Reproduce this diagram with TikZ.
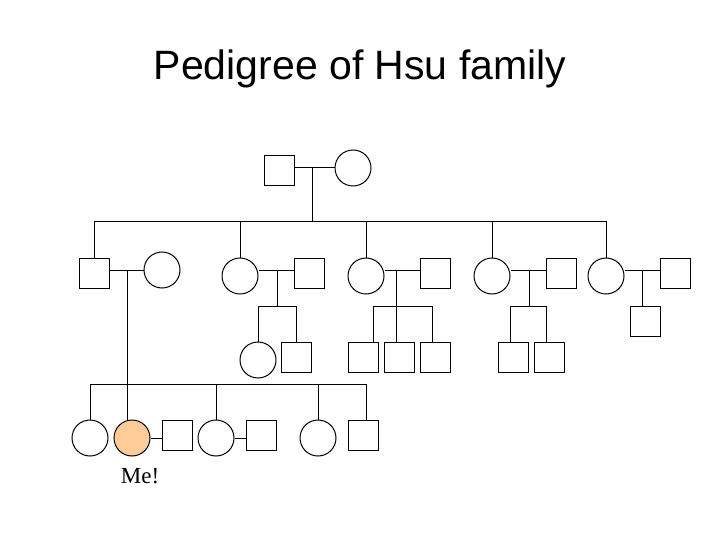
\documentclass[tikz,border=0pt]{standalone}
\usepackage{fontspec}
\setmainfont{Liberation Serif}
\newfontfamily\titlefont{Liberation Sans}
\usetikzlibrary{calc}
\definecolor{mepeach}{RGB}{255,204,153}

\begin{document}
\begin{tikzpicture}[x=1pt, y=-1pt,
  male/.style={rectangle, draw, line width=1pt, minimum size=30pt, inner sep=0pt},
  female/.style={circle, draw, line width=1pt, minimum size=36pt, inner sep=0pt},
  every path/.style={line width=1pt},
]
  \useasboundingbox (0,0) rectangle (720,540);
  \node[font=\titlefont\fontsize{41}{46}\selectfont, anchor=base] (title) at (360,80) {Pedigree of Hsu family};

  % Grandparents
  \node[male] (g1m) at (279,171) {};
  \node[female] (g1f) at (353,168) {};
  \coordinate (mp0) at (312,168);
  \coordinate (sib0) at (0,222);
  \draw (g1m.east |- mp0) -- (g1f.west);
  \draw (mp0) -- (mp0 |- sib0);

  % Second generation
  \node[male] (s1) at (94,273) {};
  \node[female] (w1) at (162,270) {};
  \node[female] (d2) at (240,276) {};
  \node[male] (h2) at (309,273) {};
  \node[female] (d3) at (366,276) {};
  \node[male] (h3) at (435,273) {};
  \node[female] (d4) at (492,276) {};
  \node[male] (h4) at (561,273) {};
  \node[female] (d5) at (606,276) {};
  \node[male] (h5) at (675,273) {};
  \coordinate (mp1) at (127,270);
  \coordinate (mp2) at (277,270);
  \coordinate (mp3) at (396,270);
  \coordinate (mp4) at (529,270);
  \coordinate (mp5) at (642,270);

  \draw (s1.north) -- (s1.north |- sib0) -| (d5.north);
  \draw (d2.north) -- (d2.north |- sib0);
  \draw (d3.north) -- (d3.north |- sib0);
  \draw (d4.north) -- (d4.north |- sib0);

  % Marriages
  \draw (s1.east |- mp1) -- (w1.west);
  \draw (d2.east |- mp2) -- (h2.west |- mp2);
  \draw (d3.east |- mp3) -- (h3.west |- mp3);
  \draw (d4.east |- mp4) -- (h4.west |- mp4);
  \draw (d5.east |- mp5) -- (h5.west |- mp5);

  % Grandchildren
  \node[female] (c21) at (258,360) {};
  \node[male] (c22) at (296,357) {};
  \coordinate (sib2) at (0,306);
  \draw (mp2) -- (mp2 |- sib2);
  \draw (c21.north) -- (c21.north |- sib2) -| (c22.north);

  \node[male] (c31) at (363,357) {};
  \node[male] (c32) at (399,357) {};
  \node[male] (c33) at (435,357) {};
  \coordinate (b3l) at (373,306);
  \coordinate (b3r) at (432,306);
  \draw (b3l |- c31.north) -- (b3l) -- (b3r) -- (b3r |- c33.north);
  \draw (mp3) -- (mp3 |- c32.north);

  \node[male] (c41) at (513,357) {};
  \node[male] (c42) at (549,357) {};
  \coordinate (b4l) at (510,306);
  \coordinate (b4r) at (546,306);
  \draw (b4l |- c41.north) -- (b4l) -- (b4r) -- (b4r |- c42.north);
  \draw (mp4) -- (mp4 |- b4l);

  \node[male] (c51) at (645,321) {};
  \draw (mp5) -- (mp5 |- c51.north);

  % Third generation, first branch
  \node[female] (c11) at (90,438) {};
  \node[female, fill=mepeach] (me) at (132,438) {};
  \node[male] (hme) at (177,435) {};
  \node[female] (c13) at (216,438) {};
  \node[male] (h13) at (261,435) {};
  \node[female] (c14) at (318,438) {};
  \node[male] (c15) at (363,435) {};
  \coordinate (b1r) at (366,384);
  \draw (c11.north) |- (b1r) -- (b1r |- c15.north);
  \draw (c13.north) -- (c13.north |- b1r);
  \draw (c14.north) -- (c14.north |- b1r);
  \draw (mp1) -- (mp1 |- me.north);
  \draw (me.east) -- (hme.west |- me.east);
  \draw (c13.east) -- (h13.west |- c13.east);

  \node[font=\fontsize{23}{26}\selectfont, anchor=base] (melabel) at (140,483) {Me!};
\end{tikzpicture}
\end{document}
